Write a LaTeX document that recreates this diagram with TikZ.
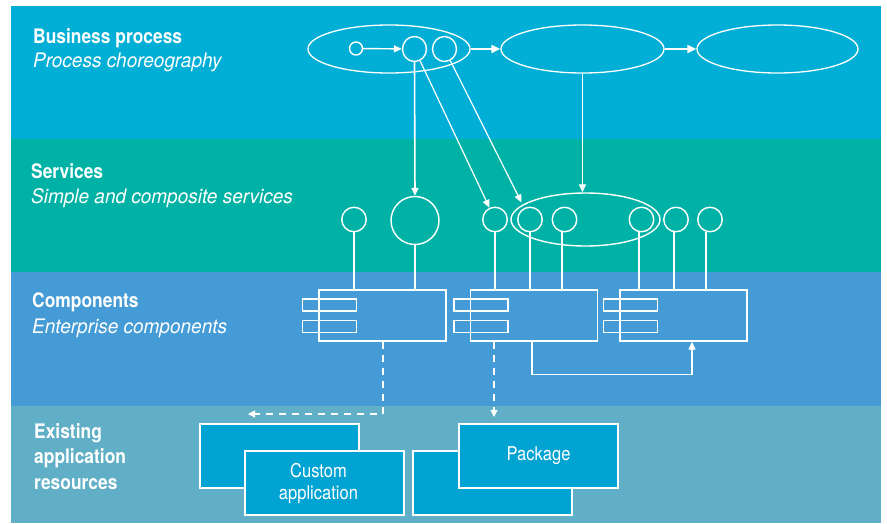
\documentclass[tikz,border=0pt]{standalone}
\usepackage{fontspec}
\setmainfont{TeX Gyre Heros}
\newfontfamily\hbold{TeX Gyre Heros}[FakeStretch=0.87]
\newfontfamily\hital{TeX Gyre Heros}[FakeStretch=0.95]
\newfontfamily\hbx{TeX Gyre Heros}[FakeStretch=0.87]
\usetikzlibrary{shapes.geometric,arrows.meta}
\definecolor{bandA}{HTML}{00AED6}
\definecolor{bandB}{HTML}{00B2A6}
\definecolor{bandC}{HTML}{449BD6}
\definecolor{bandD}{HTML}{60AFC7}
\definecolor{boxfill}{HTML}{00A3D2}
\begin{document}
\begin{tikzpicture}[x=1pt,y=-1pt,
  wl/.style={draw=white,line width=1.4pt},
  proc/.style={ellipse,draw=white,line width=1.3pt,minimum width=164pt,minimum height=48pt,inner sep=0pt},
  pc/.style={ellipse,draw=white,line width=1.4pt,minimum width=24pt,minimum height=25pt,inner sep=0pt},
  svc/.style={circle,draw=white,line width=1.4pt,minimum size=24.5pt,inner sep=0pt},
  arr/.style={draw=white,line width=1.4pt,-{Triangle[length=8pt,width=7pt]}},
  harr/.style={draw=white,line width=2pt,-{Triangle[length=9pt,width=8pt]}},
  comp/.style={rectangle,draw=white,line width=1.3pt,minimum width=127pt,minimum height=51pt,inner sep=0pt},
  tabbox/.style={rectangle,draw=white,line width=1.3pt,minimum width=54pt,minimum height=12pt,inner sep=0pt},
  res/.style={rectangle,draw=white,fill=boxfill,line width=1.3pt,minimum width=159pt,minimum height=64pt,inner sep=0pt,text=white,align=center,font=\hbx\fontsize{19}{22}\selectfont},
  dsh/.style={draw=white,line width=1.3pt,dash pattern=on 7pt off 6pt,-{Triangle[length=7pt,width=7pt]}},
  lbl/.style={anchor=base west,text=white,inner sep=0pt},
  tb/.style={lbl,font=\hbold\bfseries\fontsize{20}{24}\selectfont},
  ti/.style={lbl,font=\hital\itshape\fontsize{20}{24}\selectfont}]
\useasboundingbox (0,0) rectangle (887,523);
% bands
\fill[bandA] (11,6) rectangle (881,139);
\fill[bandB] (11,139) rectangle (881,272);
\fill[bandC] (11,272) rectangle (881,406);
\fill[bandD] (11,406) rectangle (881,523);
% labels
\node[tb] (l1) at (33,43) {Business process};
\node[ti] (l1s) at (33,67) {Process choreography};
\node[tb] (l2) at (31,178) {Services};
\node[ti] (l2s) at (31,203) {Simple and composite services};
\node[tb] (l3) at (32,307) {Components};
\node[ti] (l3s) at (32,333) {Enterprise components};
\node[tb] (l4a) at (34,438) {Existing};
\node[tb] (l4b) at (34,463.5) {application};
\node[tb] (l4c) at (34,489) {resources};
% business process
\node[proc,minimum width=162pt] (e1) at (389,49) {};
\node[proc,minimum width=163pt] (e2) at (582.5,49) {};
\node[proc,minimum width=161pt] (e3) at (777.5,49) {};
\node[pc,minimum width=13pt,minimum height=13pt] (st) at (356,48.5) {};
\node[pc] (pa) at (414.5,49) {};
\node[pc] (pb) at (444.5,49) {};
\draw[arr] (st) -- (pa);
\draw[harr] (e1) -- (e2);
\draw[harr] (e2) -- (e3);
% services
\node[svc] (c1) at (354,219.5) {};
\node[svc,minimum size=48pt] (big) at (415,220.5) {};
\node[svc] (c3) at (495,219.5) {};
\node[proc,line width=1.4pt,minimum width=149pt,minimum height=53pt] (comp) at (585.5,219.5) {};
\node[svc] (c4) at (530,219.5) {};
\node[svc] (c5) at (564.5,219.5) {};
\node[svc] (c6) at (641.5,219.5) {};
\node[svc] (c7) at (676,219.5) {};
\node[svc] (c8) at (710,219.5) {};
\coordinate (t4) at (521.5,202.5);
\draw[arr,line width=1.6pt] (pa.south) -- (big.north);
\draw[arr,line width=1.2pt] (pa) -- (c3);
\draw[arr,line width=1.2pt] (pb) -- (t4);
\draw[arr,line width=1.6pt] (e2.south) -- (e2.south |- comp.north);
% components
\node[comp] (b1) at (382.5,315.5) {};
\node[comp] (b2) at (534,315.5) {};
\node[comp] (b3) at (683.5,315.5) {};
\node[tabbox] (b1t1) at ([xshift=11pt,yshift=10.5pt]b1.west) {};
\node[tabbox] (b1t2) at ([xshift=11pt,yshift=-11pt]b1.west) {};
\node[tabbox] (b2t1) at ([xshift=11pt,yshift=10.5pt]b2.west) {};
\node[tabbox] (b2t2) at ([xshift=11pt,yshift=-11pt]b2.west) {};
\node[tabbox] (b3t1) at ([xshift=11pt,yshift=10.5pt]b3.west) {};
\node[tabbox] (b3t2) at ([xshift=11pt,yshift=-11pt]b3.west) {};
\draw[wl] (c1.south) -- (c1.south |- b1.north);
\draw[wl] (big.south) -- (big.south |- b1.north);
\draw[wl] (c3.south) -- (c3.south |- b2.north);
\draw[wl] (c4.south) -- (c4.south |- b2.north);
\draw[wl] ([xshift=-2.5pt]c5.south) -- ([xshift=-2.5pt]c5.south |- b2.north);
\draw[wl] ([xshift=-2.5pt]c6.south) -- ([xshift=-2.5pt]c6.south |- b3.north);
\draw[wl] ([xshift=-2pt]c7.south) -- ([xshift=-2pt]c7.south |- b3.north);
\draw[wl] ([xshift=-4pt]c8.south) -- ([xshift=-4pt]c8.south |- b3.north);
\draw[arr,line width=1.3pt] ([xshift=-2pt]b2.south) -- ++(0,33) -| ([xshift=8.5pt]b3.south);
% existing resources
\node[res] (r1) at (279.5,456) {};
\node[res] (r2) at (324.5,483) {\hspace*{-12pt}Custom\\\hspace*{-12pt}application};
\node[res] (r3) at (492.5,483) {};
\node[res] (r4) at (538.5,456) {Package};
\coordinate (d1) at (248,414);
\coordinate (d2) at (494,417);
\draw[dsh] ([xshift=0.5pt]b1.south) |- (d1);
\draw[dsh] (b2.south -| d2) -- (d2);
\end{tikzpicture}
\end{document}
